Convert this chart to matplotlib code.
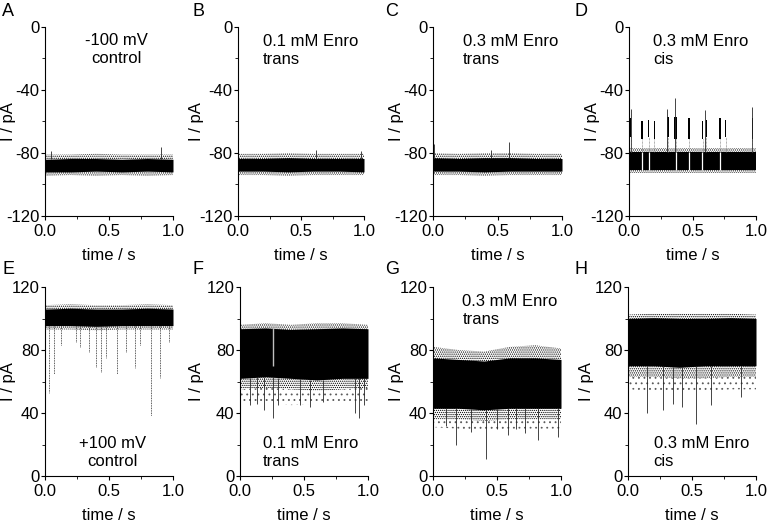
import matplotlib.pyplot as plt
import numpy as np

plt.rcParams['font.family'] = ['Liberation Sans', 'DejaVu Sans']
plt.rcParams['axes.unicode_minus'] = False
plt.rcParams['hatch.linewidth'] = 0.6

# envelope sample times (s)
env_t = [0.0, 0.2, 0.4, 0.6, 0.8, 1.0]

# ---- top row, -100 mV (pA) ----
a_lo = [-92, -92, -91.5, -92, -91.5, -92]
a_hi = [-84, -83.5, -83.5, -84, -83.5, -84]
a_flo = [-94.5, -94, -94.5, -94, -94.5, -94]
a_fhi = [-81, -81, -80.5, -81, -81, -81]
a_spk_t = [0.05, 0.91]
a_spk_v = [-78.5, -76]

b_lo = [-91.5, -91.5, -92, -91.5, -91.5, -92]
b_hi = [-83.5, -83.5, -83, -83.5, -83.5, -83.5]
b_flo = [-94, -94, -94.5, -94, -94, -94]
b_fhi = [-80.5, -80.5, -80, -80.5, -80.5, -80.5]
b_spk_t = [0.62, 0.98]
b_spk_v = [-78, -79]

c_lo = [-91.5, -91.5, -92, -91.5, -91.5, -91.5]
c_hi = [-83, -83.5, -83, -83, -83.5, -83.5]
c_flo = [-94, -94, -94.5, -94, -94, -94]
c_fhi = [-80, -80.5, -80, -80, -80.5, -80.5]
c_spk_t = [0.005, 0.59, 0.45]
c_spk_v = [-74, -73, -78]

d_lo = [-90.5, -90.5, -90.5, -90.5, -90.5, -90.5]
d_hi = [-79.5, -79.5, -79.5, -79.5, -79.5, -79.5]
d_flo = [-93, -93, -93, -93, -93, -93]
d_fhi = [-77, -77, -77, -77, -77, -77]
d_spk_t = [0.015, 0.30, 0.365, 0.60, 0.97]
d_spk_v = [-52, -52, -45, -53, -51]
# blocked-state bursts in D
d_burst_t = [0.013, 0.105, 0.155, 0.197, 0.308, 0.368, 0.471, 0.579, 0.61, 0.72, 0.76, 0.97]
d_burst_w = [0.008, 0.014, 0.012, 0.008, 0.02, 0.02, 0.017, 0.014, 0.01, 0.015, 0.008, 0.01]
d_burst_lo = [-70, -71, -70, -71, -70, -71, -71, -71, -70, -71, -70, -71]
d_burst_hi = [-58, -60, -59, -60, -57, -57, -58, -60, -59, -58, -59, -58]
d_gap_t = [0.105, 0.16, 0.37, 0.47, 0.575, 0.72]

# ---- bottom row, +100 mV (pA) ----
e_lo = [95.5, 95.5, 95, 95.5, 95.5, 95.5]
e_hi = [106, 106.5, 106, 106, 106.5, 106]
e_flo = [93, 93, 92.5, 93, 93, 93]
e_fhi = [108.5, 109, 108.5, 108.5, 109, 108.5]
e_slo = [93, 93, 92.5, 93, 93, 93]
e_spk_t = [0.029, 0.068, 0.126, 0.244, 0.27, 0.344, 0.396, 0.436, 0.475,
           0.559, 0.633, 0.703, 0.74, 0.829, 0.90, 0.966]
e_spk_v = [52.5, 65, 83, 85, 82, 79, 69.5, 66, 75, 65, 79, 68.5, 83, 38, 62, 85]

f_lo = [62, 63, 62, 61, 62, 62]
f_hi = [93.5, 94, 93, 93.5, 94, 93.5]
f_flo = [55, 56, 55, 54, 55, 56]
f_fhi = [96, 97, 96, 97, 97, 96]
f_slo = [46, 47, 45, 46, 47, 46]
f_spk_t = [0.08, 0.13, 0.19, 0.256, 0.30, 0.47, 0.55, 0.65, 0.90, 0.93, 0.97]
f_spk_v = [45, 46, 42, 37, 45, 45, 44, 47, 40, 37, 45]
f_gap_t = [0.256]

g_lo = [43, 43, 42, 43, 43, 43]
g_hi = [75, 74, 73, 75, 75, 74]
g_flo = [36, 36, 35, 36, 36, 36]
g_fhi = [82, 80, 79, 82, 83, 81]
g_slo = [31, 30, 29, 30, 30, 30]
g_spk_t = [0.10, 0.178, 0.30, 0.414, 0.50, 0.584, 0.65, 0.72, 0.817, 0.98]
g_spk_v = [32, 20, 28, 11, 30, 26, 30, 27, 23, 25]

h_lo = [70, 70, 69, 70, 70, 70]
h_hi = [100, 100.5, 100, 100, 100.5, 100]
h_flo = [63, 63, 62, 62, 63, 63]
h_fhi = [102.5, 103, 103, 103, 103, 102.5]
h_slo = [55, 54, 54, 54, 55, 55]
h_spk_t = [0.15, 0.27, 0.35, 0.42, 0.531, 0.65, 0.88]
h_spk_v = [40, 42, 46, 44, 33, 45, 50]

panel_letters = ['A', 'B', 'C', 'D', 'E', 'F', 'G', 'H']
panel_notes = ['-100 mV\ncontrol', '0.1 mM Enro\ntrans', '0.3 mM Enro\ntrans', '0.3 mM Enro\ncis',
               '+100 mV\ncontrol', '0.1 mM Enro\ntrans', '0.3 mM Enro\ntrans', '0.3 mM Enro\ncis']

top_traces = [(a_lo, a_hi, a_flo, a_fhi, None, a_spk_t, a_spk_v),
              (b_lo, b_hi, b_flo, b_fhi, None, b_spk_t, b_spk_v),
              (c_lo, c_hi, c_flo, c_fhi, None, c_spk_t, c_spk_v),
              (d_lo, d_hi, d_flo, d_fhi, None, d_spk_t, d_spk_v)]
bottom_traces = [(e_lo, e_hi, e_flo, e_fhi, e_slo, e_spk_t, e_spk_v),
                 (f_lo, f_hi, f_flo, f_fhi, f_slo, f_spk_t, f_spk_v),
                 (g_lo, g_hi, g_flo, g_fhi, g_slo, g_spk_t, g_spk_v),
                 (h_lo, h_hi, h_flo, h_fhi, h_slo, h_spk_t, h_spk_v)]

W, H = 768, 522
fig = plt.figure(figsize=(W / 100, H / 100), dpi=100)

# axes boxes in pixels: left, top, right, bottom
boxes = [(45, 27, 173, 216), (238, 27, 364, 216), (433, 27, 562, 216), (629, 27, 756, 216),
         (45, 287, 173, 476), (240, 287, 368, 476), (433, 287, 561, 476), (628, 287, 756, 476)]
ylabel_x = [8, 196, 397, 593, 8, 196, 397, 587]
letter_pos = [(2, 12), (192, 12), (385, 12), (575, 12),
              (2, 270), (192, 270), (385, 270), (575, 270)]
# note anchor (time, current, ha)
note_pos = [(0.56, -14, 'center'), (0.2, -15, 'left'), (0.23, -15, 'left'), (0.19, -15, 'left'),
            (0.53, 15, 'center'), (0.18, 15, 'left'), (0.23, 105, 'left'), (0.2, 15, 'left')]


def draw_trace(ax, lo, hi, flo, fhi, slo, spk_t, spk_v, dotted=False):
    if slo is not None:
        ax.fill_between(env_t, slo, flo, facecolor='none', edgecolor='0.35',
                        hatch='...', lw=0)
    ax.fill_between(env_t, flo, fhi, facecolor='none', edgecolor='k',
                    hatch='........', lw=0)
    ax.fill_between(env_t, lo, hi, color='k', lw=0)
    up = np.array(spk_v) > np.interp(spk_t, env_t, hi)
    base = np.where(up, np.interp(spk_t, env_t, hi), np.interp(spk_t, env_t, lo))
    ax.vlines(spk_t, base, spk_v, color='0.15', lw=0.6,
              linestyles=(0, (1, 1)) if dotted else 'solid')


for i in range(8):
    l, t, r, b = boxes[i]
    ax = fig.add_axes([l / W, 1 - b / H, (r - l) / W, (b - t) / H])
    if i < 4:
        draw_trace(ax, *top_traces[i])
        ax.set_ylim(-120, 0)
        ax.set_yticks([-120, -80, -40, 0])
        ax.set_yticks([-100, -60, -20], minor=True)
    else:
        draw_trace(ax, *bottom_traces[i - 4], dotted=(i == 4))
        ax.set_ylim(0, 120)
        ax.set_yticks([0, 40, 80, 120])
        ax.set_yticks([20, 60, 100], minor=True)
    if i == 3:
        ax.vlines(d_burst_t, d_hi[0], d_burst_lo, color='0.4', lw=0.5, linestyles=(0, (1, 1)))
        ax.bar(d_burst_t, np.array(d_burst_hi) - np.array(d_burst_lo), bottom=d_burst_lo,
               width=d_burst_w, color='k', lw=0)
        ax.vlines(d_gap_t, d_lo[0], d_hi[0], color='white', lw=0.9)
    if i == 5:
        ax.vlines(f_gap_t, 70, 94, color='0.75', lw=1.0)
    ax.set_xlim(0, 1.0)
    ax.set_xticks([0, 0.5, 1.0])
    ax.set_xticks([0.25, 0.75], minor=True)
    ax.set_xticklabels(['0.0', '0.5', '1.0'])
    for side in ['top', 'right']:
        ax.spines[side].set_visible(False)
    for side in ['left', 'bottom']:
        ax.spines[side].set_linewidth(0.8)
    ax.tick_params(which='major', direction='out', length=3, width=0.8, labelsize=12)
    ax.tick_params(axis='y', which='major', pad=1)
    ax.tick_params(axis='x', which='major', pad=3)
    ax.tick_params(which='minor', direction='out', length=2, width=0.6)
    ax.set_xlabel('time / s', fontsize=12, labelpad=6)
    ax.set_ylabel('I / pA', fontsize=12, va='center')
    ax.yaxis.set_label_coords((ylabel_x[i] - l) / (r - l), 0.5)
    nx, ny, ha = note_pos[i]
    ax.text(nx, ny, panel_notes[i], ha=ha, va='center', fontsize=12, linespacing=1.25)
    fig.text(letter_pos[i][0] / W, 1 - letter_pos[i][1] / H, panel_letters[i],
             fontsize=13, ha='left', va='center')

fig.savefig('out.png', dpi=100)
